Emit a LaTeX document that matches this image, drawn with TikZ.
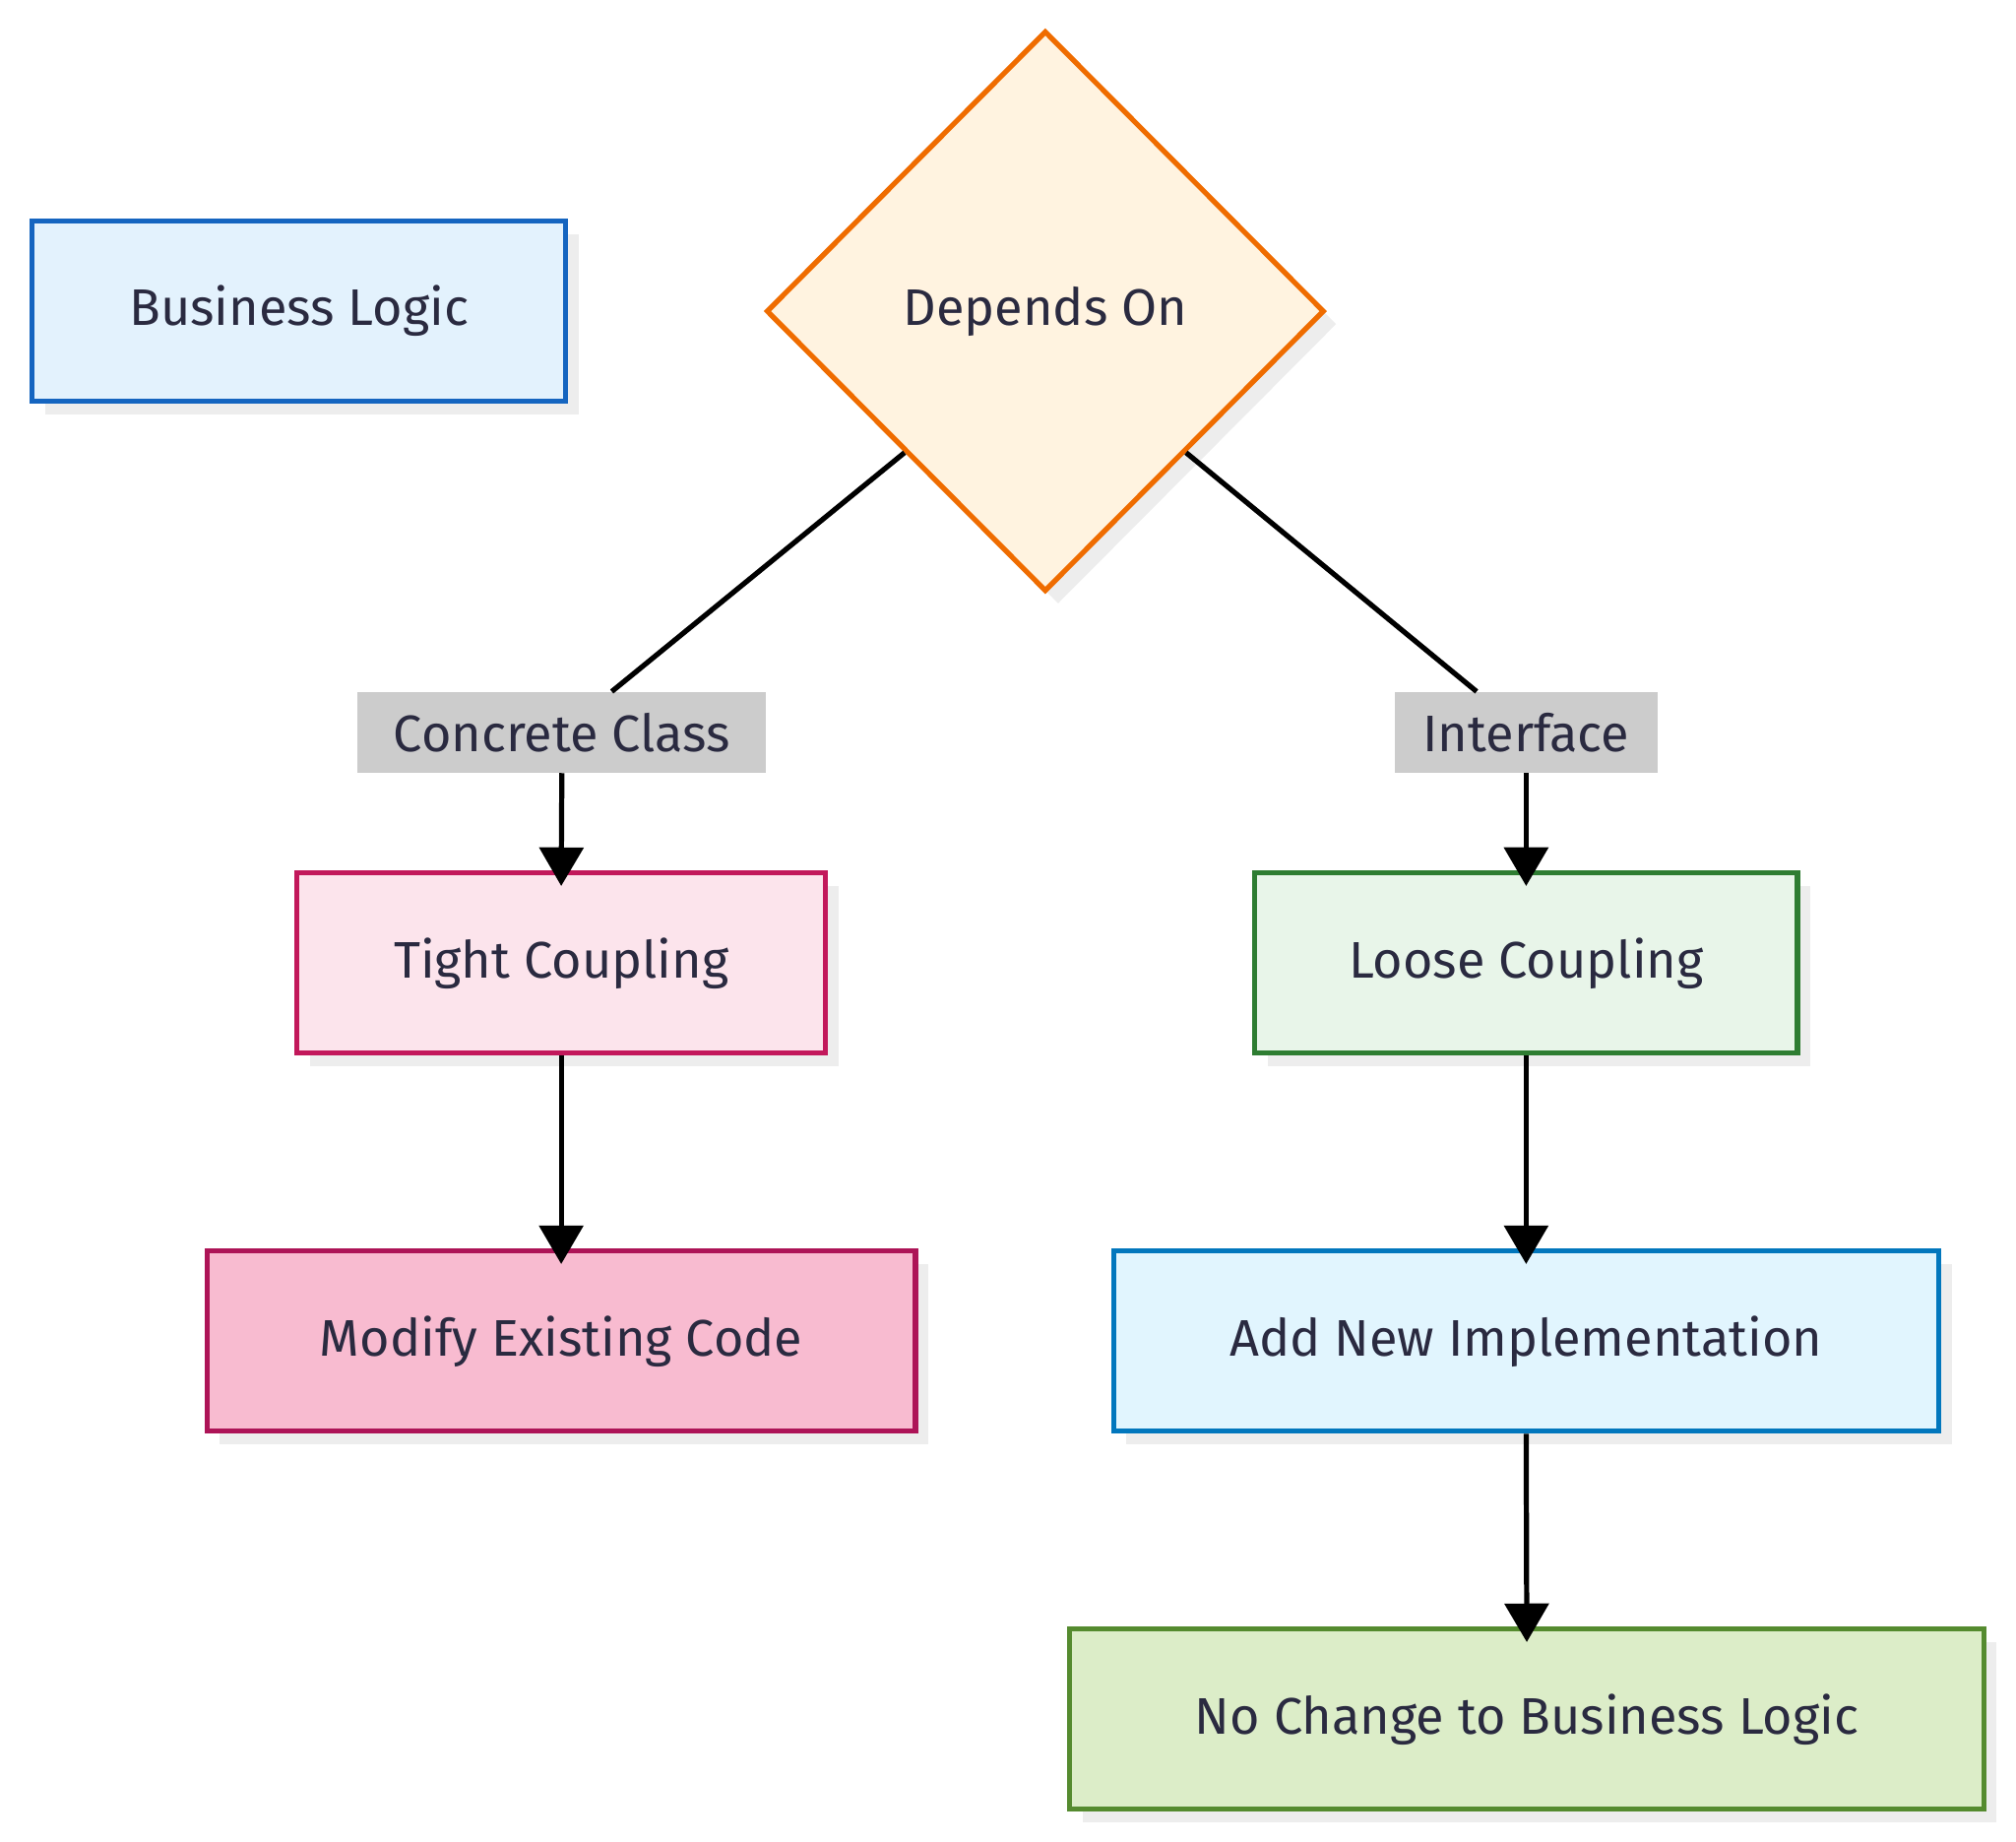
\documentclass[tikz,border=0pt]{standalone}
\usepackage{fontspec}
\setmainfont{Fira Sans}
\usetikzlibrary{shapes.geometric,shadows,arrows.meta}
\definecolor{txt}{HTML}{2A2A40}
\begin{document}
\begin{tikzpicture}[x=1pt,y=-1pt,
  base/.style={draw,line width=4pt,inner sep=0,font=\fontsize{40}{48}\selectfont,text=txt,
    drop shadow={shadow xshift=10pt,shadow yshift=-10pt,fill=black!7,opacity=1}},
  box/.style={base,rectangle,minimum height=140pt},
  lbl/.style={fill=black!20,inner sep=4pt,font=\fontsize{40}{48}\selectfont,text=txt,minimum height=63pt},
  edge/.style={line width=4pt,draw=black},
  arr/.style={edge,-{Triangle[length=30pt,width=34pt]}}]
\useasboundingbox (0,0) rectangle (1568,1432);
\node[box,draw=blue!60!black,fill={rgb,255:red,227;green,242;blue,253},draw={rgb,255:red,21;green,101;blue,192},minimum width=415pt] (bl) at (232.5,242) {Business Logic};
\node[base,diamond,fill={rgb,255:red,255;green,243;blue,224},draw={rgb,255:red,239;green,108;blue,0},minimum width=434pt,minimum height=436pt] (d) at (813,242) {Depends On};
\node[lbl,minimum width=318pt] (cc) at (437,569.5) {Concrete Class};
\node[lbl,minimum width=204pt] (if) at (1187,569.5) {Interface};
\node[box,fill={rgb,255:red,252;green,228;blue,236},draw={rgb,255:red,194;green,24;blue,91},minimum width=411pt] (tc) at (436.5,749) {Tight Coupling};
\node[box,fill={rgb,255:red,232;green,245;blue,233},draw={rgb,255:red,46;green,125;blue,50},minimum width=422pt] (lc) at (1187,749) {Loose Coupling};
\node[box,fill={rgb,255:red,248;green,187;blue,208},draw={rgb,255:red,173;green,20;blue,87},minimum width=551pt] (mc) at (436.5,1043) {Modify Existing Code};
\node[box,fill={rgb,255:red,225;green,245;blue,254},draw={rgb,255:red,2;green,119;blue,189},minimum width=642pt] (an) at (1187,1043) {Add New Implementation};
\node[box,fill={rgb,255:red,220;green,237;blue,200},draw={rgb,255:red,85;green,139;blue,47},minimum width=711pt] (nc) at (1187.5,1337) {No Change to Business Logic};
\draw[edge] (d.south west) -- (cc);
\draw[edge] (d.south east) -- (if);
\draw[arr] (cc.south) -- ([yshift=-12pt]tc.north);
\draw[arr] (if.south) -- ([yshift=-12pt]lc.north);
\draw[arr] (tc.south) -- ([yshift=-12pt]mc.north);
\draw[arr] (lc.south) -- ([yshift=-12pt]an.north);
\draw[arr] (an.south) -- ([yshift=-12pt]nc.north);
\end{tikzpicture}
\end{document}
